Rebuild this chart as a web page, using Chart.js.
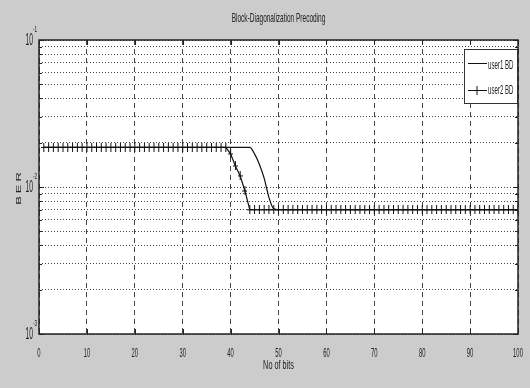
<!DOCTYPE html>
<html><head><meta charset="utf-8">
<script src="https://cdn.jsdelivr.net/npm/chart.js@4.4.0/dist/chart.umd.min.js"></script>
<style>html,body{margin:0;padding:0;background:#cccccc;overflow:hidden;}</style>
</head><body><canvas id="c" width="530" height="388"></canvas>
<script>
const bits = [1,2,3,4,5,6,7,8,9,10,11,12,13,14,15,16,17,18,19,20,21,22,23,24,25,26,27,28,29,30,31,32,33,34,35,36,37,38,39,40,41,42,43,44,45,46,47,48,49,50,51,52,53,54,55,56,57,58,59,60,61,62,63,64,65,66,67,68,69,70,71,72,73,74,75,76,77,78,79,80,81,82,83,84,85,86,87,88,89,90,91,92,93,94,95,96,97,98,99,100];
const user1BD = [
0.0186,0.0186,0.0186,0.0186,0.0186,0.0186,0.0186,0.0186,0.0186,0.0186,
0.0186,0.0186,0.0186,0.0186,0.0186,0.0186,0.0186,0.0186,0.0186,0.0186,
0.0186,0.0186,0.0186,0.0186,0.0186,0.0186,0.0186,0.0186,0.0186,0.0186,
0.0186,0.0186,0.0186,0.0186,0.0186,0.0186,0.0186,0.0186,0.0186,0.0186,
0.0186,0.0186,0.0186,0.0186,0.0168,0.0143,0.0115,0.0085,0.0071,0.007,
0.007,0.007,0.007,0.007,0.007,0.007,0.007,0.007,0.007,0.007,
0.007,0.007,0.007,0.007,0.007,0.007,0.007,0.007,0.007,0.007,
0.007,0.007,0.007,0.007,0.007,0.007,0.007,0.007,0.007,0.007,
0.007,0.007,0.007,0.007,0.007,0.007,0.007,0.007,0.007,0.007,
0.007,0.007,0.007,0.007,0.007,0.007,0.007,0.007,0.007,0.007];
const user2BD = [
0.0186,0.0186,0.0186,0.0186,0.0186,0.0186,0.0186,0.0186,0.0186,0.0186,
0.0186,0.0186,0.0186,0.0186,0.0186,0.0186,0.0186,0.0186,0.0186,0.0186,
0.0186,0.0186,0.0186,0.0186,0.0186,0.0186,0.0186,0.0186,0.0186,0.0186,
0.0186,0.0186,0.0186,0.0186,0.0186,0.0186,0.0186,0.0186,0.0186,0.0168,
0.0139,0.0119,0.0094,0.007,0.007,0.007,0.007,0.007,0.007,0.007,
0.007,0.007,0.007,0.007,0.007,0.007,0.007,0.007,0.007,0.007,
0.007,0.007,0.007,0.007,0.007,0.007,0.007,0.007,0.007,0.007,
0.007,0.007,0.007,0.007,0.007,0.007,0.007,0.007,0.007,0.007,
0.007,0.007,0.007,0.007,0.007,0.007,0.007,0.007,0.007,0.007,
0.007,0.007,0.007,0.007,0.007,0.007,0.007,0.007,0.007,0.007];
const seriesNames = ["user1 BD", "user2 BD"];
const xTicks = [0,10,20,30,40,50,60,70,80,90,100];
const yGrid = [0.001,0.002,0.003,0.004,0.005,0.006,0.007,0.008,0.009,0.01,0.02,0.03,0.04,0.05,0.06,0.07,0.08,0.09,0.1];
const yMajor = [0.001, 0.01, 0.1];
const yMajorLabels = [["10","-3"],["10","-2"],["10","-1"]];
const titleText = "Block-Diagonalization Precoding";
const xLabel = "No of bits";
const yLabel = "BER";

const FONT = "'Liberation Sans', Arial, sans-serif";
const INK = "#111111";

// squashed plus marker
const plus = document.createElement('canvas');
plus.width = 5; plus.height = 9;
(function(){const c = plus.getContext('2d'); c.fillStyle = '#111'; c.fillRect(0,4,5,1); c.fillRect(2,0,1,9);})();

function txt(ctx, s, x, y, size, sx, align, rot){
  ctx.save();
  ctx.translate(x, y);
  ctx.scale(sx, 1);
  if (rot) ctx.rotate(rot);
  ctx.font = size + "px " + FONT;
  ctx.textAlign = align || 'center';
  ctx.textBaseline = 'alphabetic';
  ctx.fillStyle = '#222';
  ctx.fillText(s, 0, 0);
  ctx.restore();
}

const decor = {
  id: 'decor',
  beforeDraw(chart){
    const {ctx, chartArea: a} = chart;
    ctx.save();
    ctx.fillStyle = '#cccccc';
    ctx.fillRect(0, 0, chart.width, chart.height);
    ctx.fillStyle = '#ffffff';
    ctx.fillRect(a.left, a.top, a.right - a.left, a.bottom - a.top);
    ctx.restore();
  },
  afterDraw(chart){
    const {ctx, chartArea: a} = chart;
    const xs = chart.scales.x, ys = chart.scales.y;
    ctx.save();
    ctx.strokeStyle = '#222'; ctx.lineWidth = 1.5;
    ctx.strokeRect(a.left, a.top, a.right - a.left, a.bottom - a.top);
    ctx.lineWidth = 1;
    ctx.beginPath();
    xTicks.forEach(v => {
      const px = Math.round(xs.getPixelForValue(v)) + 0.5;
      ctx.moveTo(px, a.bottom); ctx.lineTo(px, a.bottom - 5);
      ctx.moveTo(px, a.top); ctx.lineTo(px, a.top + 5);
    });
    yGrid.forEach(v => {
      const py = Math.round(ys.getPixelForValue(v)) + 0.5;
      const L = yMajor.includes(v) ? 5 : 3;
      ctx.moveTo(a.left, py); ctx.lineTo(a.left + L, py);
      ctx.moveTo(a.right, py); ctx.lineTo(a.right - L, py);
    });
    ctx.stroke();
    ctx.restore();

    txt(ctx, titleText, (a.left + a.right) / 2, 22, 13, 0.5, 'center');
    xTicks.forEach(v => txt(ctx, String(v), xs.getPixelForValue(v), 357, 13, 0.45, 'center'));
    txt(ctx, xLabel, (a.left + a.right) / 2, 369, 13, 0.56, 'center');
    yMajor.forEach((v, i) => {
      const py = ys.getPixelForValue(v);
      txt(ctx, yMajorLabels[i][0], 33, py + 5, 16, 0.42, 'right');
      txt(ctx, yMajorLabels[i][1], 33, py - 8, 9, 0.5, 'left');
    });
    ctx.save();
    ctx.letterSpacing = '3px';
    txt(ctx, yLabel, 21, (a.top + a.bottom) / 2, 13, 0.6, 'center', -Math.PI / 2);
    ctx.restore();

    const lx = 464, ly = 49, lw = 53, lh = 54;
    ctx.save();
    ctx.fillStyle = '#fff';
    ctx.fillRect(lx, ly, lw, lh);
    ctx.strokeStyle = '#333'; ctx.lineWidth = 1;
    ctx.strokeRect(lx + 0.5, ly + 0.5, lw, lh);
    const rows = [63, 90];
    ctx.strokeStyle = INK; ctx.lineWidth = 1;
    rows.forEach((ry, i) => {
      ctx.beginPath(); ctx.moveTo(468, ry + 0.5); ctx.lineTo(487, ry + 0.5); ctx.stroke();
      if (i === 1) ctx.drawImage(plus, 477 - 2.5, ry - 4);
    });
    ctx.restore();
    txt(ctx, seriesNames[0], 488, 69, 13, 0.47, 'left');
    txt(ctx, seriesNames[1], 488, 94, 13, 0.47, 'left');
  }
};

new Chart(document.getElementById('c'), {
  type: 'line',
  data: {
    datasets: [
      { label: seriesNames[0], data: bits.map((x, i) => ({x, y: user1BD[i]})),
        borderColor: INK, borderWidth: 1.2, pointRadius: 0, cubicInterpolationMode: 'monotone' },
      { label: seriesNames[1], data: bits.map((x, i) => ({x, y: user2BD[i]})),
        borderColor: INK, borderWidth: 1.2, pointStyle: plus, pointRadius: 4 }
    ]
  },
  options: {
    responsive: false, animation: false, devicePixelRatio: 1,
    layout: { padding: { left: 39, right: 12, top: 40, bottom: 54 } },
    plugins: { legend: { display: false }, title: { display: false }, tooltip: { enabled: false } },
    scales: {
      x: {
        type: 'linear', min: 0, max: 100,
        afterBuildTicks: s => { s.ticks = xTicks.map(v => ({value: v})); },
        afterFit: s => { s.height = 0; },
        ticks: { display: false },
        grid: { color: '#444', lineWidth: 1, drawTicks: false },
        border: { display: false, dash: [5, 4] }
      },
      y: {
        type: 'logarithmic', min: 0.001, max: 0.1,
        afterBuildTicks: s => { s.ticks = yGrid.map(v => ({value: v})); },
        afterFit: s => { s.width = 0; },
        ticks: { display: false, autoSkip: false },
        grid: { color: '#444', lineWidth: 1, drawTicks: false },
        border: { display: false, dash: [1, 2] }
      }
    }
  },
  plugins: [decor]
});
</script>
</body></html>
